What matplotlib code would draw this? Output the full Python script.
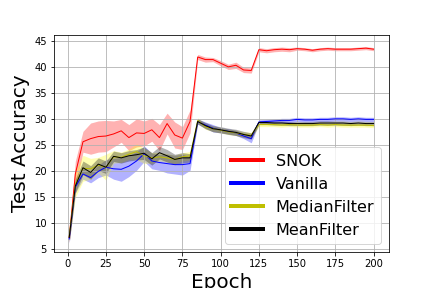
import matplotlib
matplotlib.use("Agg")
import matplotlib.pyplot as plt
import numpy as np

epochs = [1] + list(range(5, 201, 5))

snok = [7.3, 19.5, 25.7, 26.3, 26.7, 26.8, 27.2, 27.8, 26.5, 27.4, 27.3,
        28.0, 26.5, 29.2, 27.0, 26.4, 29.6, 42.0, 41.5, 41.5, 40.8, 40.1,
        40.4, 39.5, 39.4, 43.4, 43.2, 43.4, 43.5, 43.4, 43.6, 43.5, 43.3,
        43.5, 43.6, 43.5, 43.5, 43.5, 43.6, 43.7, 43.5]
snok_std = [1.0, 2.5, 2.0, 3.0, 3.0, 3.0, 2.5, 2.2, 2.5, 2.7, 2.4,
            2.2, 2.5, 2.0, 2.5, 2.2, 2.2, 0.5, 0.5, 0.4, 0.5, 0.5,
            0.6, 0.5, 0.5, 0.4, 0.4, 0.4, 0.4, 0.4, 0.3, 0.3, 0.3,
            0.3, 0.3, 0.3, 0.3, 0.3, 0.3, 0.3, 0.3]

vanilla = [7.0, 17.0, 19.5, 18.8, 20.0, 20.8, 20.5, 20.4, 21.0, 22.0, 23.4,
           22.0, 21.7, 21.5, 21.3, 21.3, 21.5, 29.6, 28.9, 28.3, 27.9, 27.7,
           27.4, 26.8, 26.3, 29.5, 29.6, 29.7, 29.8, 29.8, 30.0, 29.9, 29.9,
           30.0, 30.0, 30.1, 30.1, 30.0, 30.1, 30.0, 30.0]
vanilla_std = [0.8, 1.2, 1.0, 1.0, 1.2, 1.5, 2.0, 2.3, 2.0, 1.8, 1.5,
               1.5, 1.5, 1.8, 1.8, 2.0, 1.3, 0.5, 0.6, 0.7, 0.5, 0.5,
               0.5, 0.5, 0.8, 0.4, 0.4, 0.4, 0.4, 0.4, 0.4, 0.4, 0.4,
               0.4, 0.4, 0.4, 0.4, 0.4, 0.4, 0.4, 0.4]

median = [7.5, 17.5, 20.6, 20.5, 21.2, 20.8, 22.8, 22.7, 23.3, 23.8, 23.0,
          22.6, 22.8, 22.6, 22.3, 22.8, 23.0, 29.8, 28.6, 28.2, 27.9, 27.6,
          27.4, 27.1, 26.9, 29.0, 29.0, 29.0, 28.9, 29.0, 28.9, 28.9, 28.9,
          29.0, 28.9, 29.0, 28.9, 28.9, 28.9, 28.9, 28.8]
median_std = [1.0, 2.5, 2.5, 2.0, 1.5, 2.5, 1.2, 1.0, 1.0, 1.5, 1.5,
              1.0, 0.8, 0.8, 0.8, 0.8, 0.8, 0.5, 0.5, 0.5, 0.5, 0.5,
              0.5, 0.5, 0.6, 0.4, 0.4, 0.4, 0.4, 0.4, 0.4, 0.4, 0.4,
              0.4, 0.4, 0.4, 0.4, 0.4, 0.4, 0.4, 0.4]

mean = [7.3, 17.2, 20.7, 19.8, 21.4, 20.8, 22.9, 22.6, 23.0, 23.2, 23.5,
        22.4, 23.6, 23.0, 22.3, 22.6, 22.6, 29.6, 28.8, 28.2, 28.0, 27.7,
        27.5, 27.1, 26.8, 29.4, 29.4, 29.3, 29.3, 29.2, 29.2, 29.2, 29.2,
        29.3, 29.3, 29.3, 29.3, 29.2, 29.3, 29.2, 29.2]
mean_std = [0.8, 1.3, 1.3, 1.3, 1.2, 1.2, 1.0, 1.0, 1.0, 1.0, 1.2,
            1.2, 1.2, 1.2, 1.0, 1.0, 0.8, 0.5, 0.6, 0.6, 0.6, 0.6,
            0.6, 0.6, 0.6, 0.4, 0.4, 0.4, 0.4, 0.4, 0.4, 0.4, 0.4,
            0.4, 0.4, 0.4, 0.4, 0.4, 0.4, 0.4, 0.4]

series = [("SNOK", snok, snok_std, "r", "r"),
          ("Vanilla", vanilla, vanilla_std, "b", "b"),
          ("MedianFilter", median, median_std, "y", "yellow"),
          ("MeanFilter", mean, mean_std, "k", "k")]

fig, ax = plt.subplots(figsize=(6, 4), dpi=72)
x = np.array(epochs)
for name, m, s, c, fc in series:
    m, s = np.array(m), np.array(s)
    ax.plot(x, m, color=c, lw=1, label=name)
    ax.fill_between(x, m - s, m + s, color=fc, alpha=0.3, lw=0)

ax.set_ylim(4.5, 46.2)
ax.set_xticks([0, 25, 50, 75, 100, 125, 150, 175, 200])
ax.set_yticks([5, 10, 15, 20, 25, 30, 35, 40, 45])
ax.grid(True)
ax.set_xlabel("Epoch", fontsize=20)
ax.set_ylabel("Test Accuracy", fontsize=20)
leg = ax.legend(loc="lower right", fontsize=16)
for h in leg.get_lines():
    h.set_linewidth(4)
fig.subplots_adjust(left=0.125, right=0.9, bottom=0.125, top=0.878)
fig.savefig("out.png", dpi=72)
